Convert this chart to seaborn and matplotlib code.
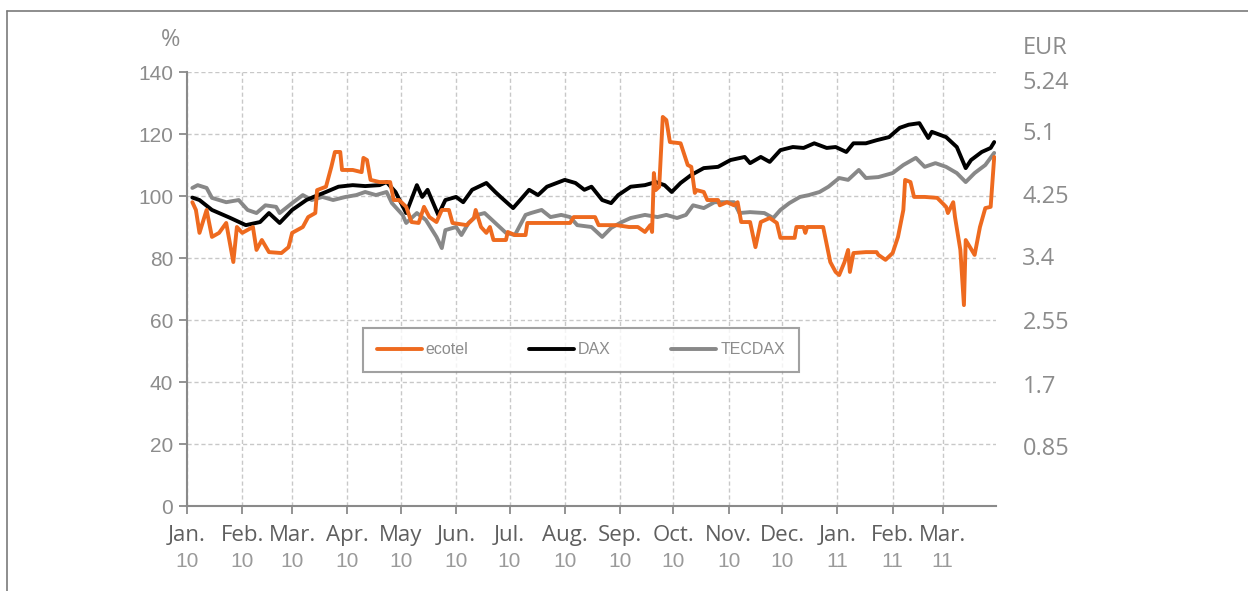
import matplotlib
matplotlib.use("Agg")
import matplotlib.pyplot as plt
import matplotlib.transforms as mtransforms
from matplotlib.lines import Line2D
import seaborn as sns
import pandas as pd

# ecotel share price, indexed (%)
ecotel_dates = [
    "2010-01-04", "2010-01-06", "2010-01-08", "2010-01-12", "2010-01-15", "2010-01-19",
    "2010-01-23", "2010-01-27", "2010-01-29", "2010-02-01", "2010-02-07", "2010-02-09",
    "2010-02-12", "2010-02-16", "2010-02-23", "2010-02-27", "2010-03-01", "2010-03-07",
    "2010-03-10", "2010-03-14", "2010-03-15", "2010-03-20", "2010-03-23", "2010-03-25",
    "2010-03-28", "2010-03-29", "2010-04-04", "2010-04-09", "2010-04-10", "2010-04-12",
    "2010-04-14", "2010-04-19", "2010-04-25", "2010-04-27", "2010-04-30", "2010-05-04",
    "2010-05-07", "2010-05-11", "2010-05-14", "2010-05-17", "2010-05-21", "2010-05-24",
    "2010-05-28", "2010-05-30", "2010-06-07", "2010-06-11", "2010-06-12", "2010-06-15",
    "2010-06-18", "2010-06-20", "2010-06-22", "2010-06-29", "2010-06-30", "2010-07-04",
    "2010-07-10", "2010-07-11", "2010-08-04", "2010-08-06", "2010-08-18", "2010-08-20",
    "2010-08-30", "2010-09-06", "2010-09-11", "2010-09-15", "2010-09-18", "2010-09-19",
    "2010-09-20", "2010-09-21", "2010-09-23", "2010-09-25", "2010-09-27", "2010-09-29",
    "2010-10-05", "2010-10-09", "2010-10-11", "2010-10-13", "2010-10-14", "2010-10-18",
    "2010-10-20", "2010-10-26", "2010-10-27", "2010-10-31", "2010-11-04", "2010-11-06",
    "2010-11-08", "2010-11-13", "2010-11-16", "2010-11-19", "2010-11-24", "2010-11-28",
    "2010-11-30", "2010-12-08", "2010-12-09", "2010-12-13", "2010-12-14", "2010-12-15",
    "2010-12-24", "2010-12-28", "2010-12-31", "2011-01-02", "2011-01-05", "2011-01-07",
    "2011-01-08", "2011-01-10", "2011-01-17", "2011-01-23", "2011-01-24", "2011-01-28",
    "2011-02-01", "2011-02-04", "2011-02-07", "2011-02-08", "2011-02-11", "2011-02-13",
    "2011-02-19", "2011-02-26", "2011-03-03", "2011-03-04", "2011-03-07", "2011-03-08",
    "2011-03-11", "2011-03-13", "2011-03-14", "2011-03-19", "2011-03-22", "2011-03-25",
    "2011-03-28", "2011-03-30",
]
ecotel_values = [
    98.0, 95.5, 88.1, 95.5, 86.8, 88.1,
    91.3, 78.7, 90.0, 88.1, 90.0, 82.6,
    85.8, 81.9, 81.6, 83.5, 88.1, 90.0,
    93.2, 94.5, 101.9, 103.0, 109.4, 114.2,
    114.2, 108.4, 108.4, 107.7, 112.3, 111.6,
    105.2, 104.5, 104.5, 98.7, 98.7, 96.5,
    91.6, 91.3, 96.5, 93.2, 91.6, 95.5,
    95.5, 91.3, 90.6, 92.9, 95.5, 90.0,
    88.1, 90.0, 85.8, 85.8, 88.4, 87.4,
    87.4, 91.3, 91.3, 93.2, 93.2, 90.6,
    90.6, 90.0, 90.0, 88.4, 90.6, 88.4,
    107.4, 101.9, 103.0, 125.5, 124.5, 117.4,
    117.0, 110.0, 109.4, 101.0, 101.9, 101.3,
    98.7, 98.7, 97.0, 98.0, 97.0, 98.0,
    91.6, 91.6, 83.5, 91.6, 92.9, 91.3,
    86.5, 86.5, 90.0, 90.0, 88.1, 90.0,
    90.0, 78.7, 75.5, 74.5, 78.7, 82.6,
    75.5, 81.6, 81.9, 81.9, 81.0, 79.4,
    81.6, 86.8, 95.5, 105.2, 104.5, 99.7,
    99.7, 99.4, 96.5, 94.5, 98.0, 93.2,
    82.6, 64.8, 85.8, 81.0, 90.0, 96.1,
    96.5, 112.6,
]

# DAX, indexed (%)
dax_dates = [
    "2010-01-04", "2010-01-08", "2010-01-15", "2010-01-25", "2010-02-03", "2010-02-11",
    "2010-02-16", "2010-02-22", "2010-03-01", "2010-03-09", "2010-03-13", "2010-03-20",
    "2010-03-27", "2010-04-04", "2010-04-11", "2010-04-19", "2010-04-23", "2010-04-28",
    "2010-05-04", "2010-05-10", "2010-05-13", "2010-05-16", "2010-05-22", "2010-05-26",
    "2010-06-01", "2010-06-05", "2010-06-10", "2010-06-18", "2010-06-23", "2010-06-26",
    "2010-07-03", "2010-07-07", "2010-07-12", "2010-07-17", "2010-07-22", "2010-08-01",
    "2010-08-07", "2010-08-12", "2010-08-16", "2010-08-22", "2010-08-27", "2010-08-31",
    "2010-09-07", "2010-09-15", "2010-09-21", "2010-09-26", "2010-09-30", "2010-10-05",
    "2010-10-11", "2010-10-18", "2010-10-26", "2010-11-02", "2010-11-10", "2010-11-13",
    "2010-11-19", "2010-11-24", "2010-11-30", "2010-12-07", "2010-12-13", "2010-12-19",
    "2010-12-26", "2010-12-31", "2011-01-06", "2011-01-10", "2011-01-17", "2011-01-23",
    "2011-01-30", "2011-02-05", "2011-02-10", "2011-02-16", "2011-02-21", "2011-02-23",
    "2011-03-03", "2011-03-09", "2011-03-14", "2011-03-17", "2011-03-23", "2011-03-28",
    "2011-03-30",
]
dax_values = [
    99.5, 98.7, 95.5, 93.0, 90.6, 91.6,
    94.5, 91.3, 95.5, 98.7, 99.7, 101.3,
    103.0, 103.5, 103.2, 103.5, 104.5, 101.3,
    94.5, 103.5, 99.7, 102.0, 93.9, 98.7,
    99.7, 98.0, 102.0, 104.2, 101.3, 99.7,
    96.1, 98.7, 102.0, 100.3, 103.0, 105.2,
    104.2, 102.0, 103.0, 98.7, 97.7, 100.3,
    103.0, 103.5, 104.5, 103.5, 101.3, 104.2,
    106.8, 109.0, 109.4, 111.6, 112.6, 110.6,
    112.6, 111.0, 114.8, 115.8, 115.5, 117.0,
    115.5, 115.8, 114.2, 117.0, 117.0, 118.0,
    119.0, 122.0, 123.0, 123.5, 118.7, 120.7,
    119.0, 115.8, 109.0, 111.6, 114.2, 115.5,
    117.4,
]

# TecDAX, indexed (%)
tecdax_dates = [
    "2010-01-04", "2010-01-07", "2010-01-12", "2010-01-15", "2010-01-23", "2010-01-30",
    "2010-02-04", "2010-02-09", "2010-02-14", "2010-02-20", "2010-02-22", "2010-03-01",
    "2010-03-07", "2010-03-12", "2010-03-18", "2010-03-24", "2010-03-31", "2010-04-06",
    "2010-04-11", "2010-04-17", "2010-04-23", "2010-04-26", "2010-05-02", "2010-05-04",
    "2010-05-10", "2010-05-15", "2010-05-21", "2010-05-24", "2010-05-26", "2010-06-01",
    "2010-06-04", "2010-06-08", "2010-06-13", "2010-06-17", "2010-06-23", "2010-06-29",
    "2010-07-04", "2010-07-10", "2010-07-13", "2010-07-19", "2010-07-24", "2010-07-30",
    "2010-08-04", "2010-08-08", "2010-08-16", "2010-08-22", "2010-08-27", "2010-09-02",
    "2010-09-07", "2010-09-15", "2010-09-22", "2010-09-27", "2010-10-03", "2010-10-08",
    "2010-10-12", "2010-10-18", "2010-10-24", "2010-10-29", "2010-11-04", "2010-11-07",
    "2010-11-13", "2010-11-21", "2010-11-26", "2010-11-30", "2010-12-05", "2010-12-11",
    "2010-12-16", "2010-12-22", "2010-12-27", "2011-01-02", "2011-01-07", "2011-01-13",
    "2011-01-17", "2011-01-24", "2011-02-01", "2011-02-07", "2011-02-14", "2011-02-19",
    "2011-02-25", "2011-03-03", "2011-03-09", "2011-03-14", "2011-03-19", "2011-03-25",
    "2011-03-30",
]
tecdax_values = [
    102.6, 103.5, 102.6, 99.4, 98.0, 98.7,
    95.5, 94.5, 97.0, 96.5, 94.5, 97.7,
    100.3, 98.7, 99.7, 98.7, 99.7, 100.3,
    101.3, 100.3, 101.3, 97.7, 93.9, 91.3,
    94.5, 92.3, 86.8, 83.2, 89.0, 90.0,
    87.4, 91.3, 93.9, 94.5, 91.3, 88.1,
    87.4, 93.9, 94.5, 95.5, 93.2, 93.9,
    93.2, 90.6, 90.0, 86.8, 89.7, 91.6,
    92.9, 93.9, 93.2, 93.9, 92.9, 93.9,
    97.0, 96.1, 98.0, 98.0, 98.0, 94.5,
    94.8, 94.5, 92.9, 95.5, 97.7, 99.7,
    100.3, 101.3, 103.0, 105.8, 105.2, 108.4,
    105.8, 106.1, 107.4, 110.0, 112.3, 109.4,
    110.6, 109.4, 107.4, 104.5, 107.4, 110.0,
    113.9,
]

month_labels = ["Jan.", "Feb.", "Mar.", "Apr.", "May", "Jun.", "Jul.", "Aug.",
                "Sep.", "Oct.", "Nov.", "Dec.", "Jan.", "Feb.", "Mar."]
year_labels = ["10"] * 12 + ["11"] * 3
pct_ticks = [0, 20, 40, 60, 80, 100, 120, 140]
eur_ticks = [19.5, 39.5, 60, 80.5, 100.5, 121, 137.5]
eur_labels = ["0.85", "1.7", "2.55", "3.4", "4.25", "5.1", "5.24"]

ORANGE = "#ee6a1f"
GREY = "#888888"
TXT = "#8c8c8c"

sns.set_style("white")
plt.rcParams["font.family"] = ["Liberation Sans", "DejaVu Sans"]

fig = plt.figure(figsize=(12.48, 5.91), dpi=100)
ax = fig.add_axes([187 / 1248, 1 - 506 / 591, (996 - 187) / 1248, (506 - 72) / 591])

series = [
    (tecdax_dates, tecdax_values, GREY),
    (dax_dates, dax_values, "black"),
    (ecotel_dates, ecotel_values, ORANGE),
]
for dates, vals, col in series:
    df = pd.DataFrame({"date": pd.to_datetime(dates), "value": vals})
    sns.lineplot(data=df, x="date", y="value", color=col, linewidth=2.8, ax=ax)

month_starts = pd.date_range("2010-01-01", "2011-03-01", freq="MS")
ax.set_xlim(pd.Timestamp("2010-01-01"), pd.Timestamp("2011-03-31"))
ax.set_ylim(0, 140)
ax.set_xticks(month_starts)
ax.set_xticklabels([])
ax.set_yticks(pct_ticks)
ax.set_xlabel("")
ax.set_ylabel("")
ax.grid(True, linestyle=(0, (3, 2)), color="#c8c8c8", linewidth=1)
for side in ["top", "right"]:
    ax.spines[side].set_visible(False)
for side in ["left", "bottom"]:
    ax.spines[side].set_color("#8a8a8a")
    ax.spines[side].set_linewidth(1.5)
ax.tick_params(axis="both", direction="out", length=6, width=1.3, color="#8a8a8a",
               left=True, bottom=True)
ax.tick_params(axis="y", labelsize=15, labelcolor=TXT, pad=4)

trans = mtransforms.blended_transform_factory(ax.transData, ax.transAxes)
for d, m, y in zip(month_starts, month_labels, year_labels):
    ax.text(d, -0.069, m, transform=trans, ha="center", va="center",
            fontsize=16, color="#5f5f5f", family=["Open Sans", "DejaVu Sans"])
    ax.text(d, -0.129, y, transform=trans, ha="center", va="center",
            fontsize=15, color="#9a9a9a")

# right-hand EUR scale
ax2 = ax.twinx()
ax2.set_ylim(ax.get_ylim())
ax2.set_yticks(eur_ticks)
ax2.set_yticklabels(eur_labels)
ax2.tick_params(axis="y", length=0, pad=19, labelsize=17, labelcolor=TXT)
for lbl in ax2.get_yticklabels():
    lbl.set_family(["Open Sans", "DejaVu Sans"])
for s in ax2.spines.values():
    s.set_visible(False)
ax2.grid(False)

fig.text(1023 / 1248, 1 - 48 / 591, "EUR", ha="left", va="center", fontsize=17,
         color=TXT, family=["Open Sans", "DejaVu Sans"])
fig.text(171 / 1248, 1 - 40 / 591, "%", ha="center", va="center", fontsize=17,
         color=TXT, family=["Open Sans", "DejaVu Sans"])

handles = [
    Line2D([], [], color=ORANGE, linewidth=2.8),
    Line2D([], [], color="black", linewidth=2.8),
    Line2D([], [], color=GREY, linewidth=2.8),
]
leg = ax.legend(handles, ["ecotel", "DAX", "TECDAX"], loc="center",
                bbox_to_anchor=(0.487, 0.36), ncol=3, frameon=True, fancybox=False,
                fontsize=11.5, handlelength=2.8, handletextpad=0.25,
                columnspacing=3.8, borderpad=0.9, labelcolor="#8c8c8c")
leg.get_frame().set_edgecolor("#8a8a8a")
leg.get_frame().set_linewidth(1.5)

# outer frame (top and left edges)
fig.add_artist(Line2D([7 / 1248, 1], [1 - 11 / 591] * 2, transform=fig.transFigure,
                      color="#7a7a7a", linewidth=1.2))
fig.add_artist(Line2D([7 / 1248] * 2, [0, 1 - 11 / 591], transform=fig.transFigure,
                      color="#7a7a7a", linewidth=1.2))

fig.savefig("out.png", dpi=100)
plt.close(fig)
